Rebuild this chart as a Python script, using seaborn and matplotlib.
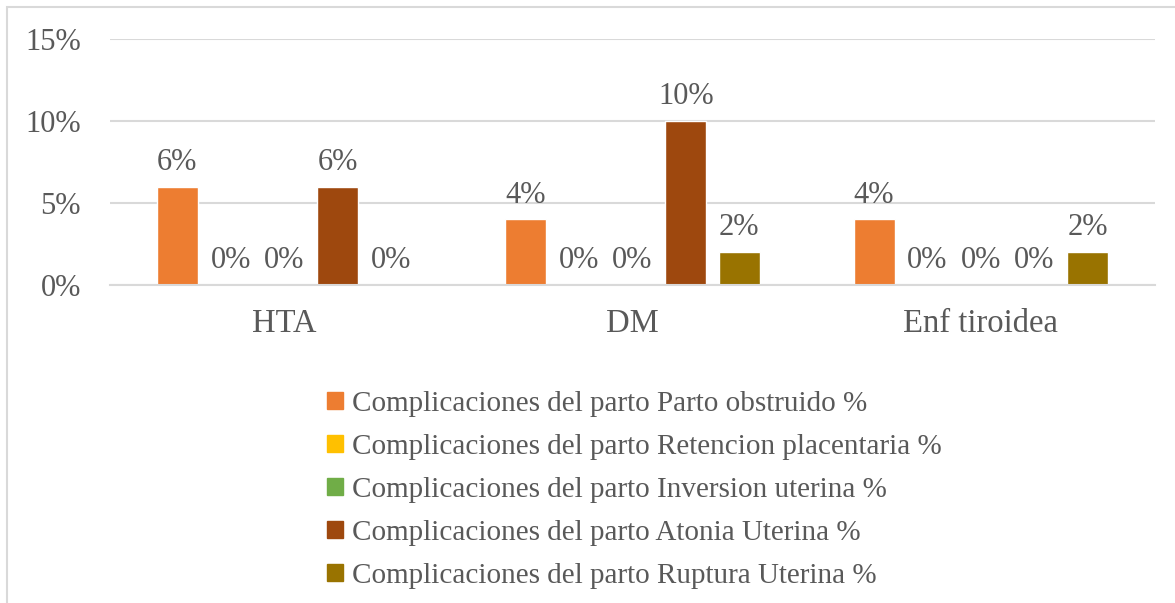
import matplotlib
matplotlib.use("Agg")
import matplotlib.pyplot as plt
import matplotlib.patches as mpatches
import seaborn as sns
import pandas as pd

categories = ["HTA", "DM", "Enf tiroidea"]
series = [
    "Complicaciones del parto Parto obstruido %",
    "Complicaciones del parto Retencion placentaria %",
    "Complicaciones del parto Inversion uterina %",
    "Complicaciones del parto Atonia Uterina %",
    "Complicaciones del parto Ruptura Uterina %",
]
parto_obstruido = [6, 4, 4]
retencion_placentaria = [0, 0, 0]
inversion_uterina = [0, 0, 0]
atonia_uterina = [6, 10, 0]
ruptura_uterina = [0, 2, 2]
yticks = [0, 5, 10, 15]
colors = ["#ED7D31", "#FFC000", "#70AD47", "#9E480E", "#997300"]

values = [parto_obstruido, retencion_placentaria, inversion_uterina, atonia_uterina, ruptura_uterina]
rows = []
for s, vals in zip(series, values):
    for c, v in zip(categories, vals):
        rows.append({"cat": c, "serie": s, "val": v})
df = pd.DataFrame(rows)

sns.set_theme(style="white")
plt.rcParams["font.family"] = ["Liberation Serif", "DejaVu Serif"]
text_color = "#595959"
fs = 22

fig = plt.figure(figsize=(11.75, 6.03), dpi=100)
ax = fig.add_axes([110/1175, 1-285/603, (1155-110)/1175, (285-39)/603])

sns.barplot(data=df, x="cat", y="val", hue="serie", order=categories, hue_order=series,
            palette=colors, width=0.766, gap=0.23, ax=ax, legend=False, saturation=1,
            errorbar=None)

for cont in ax.containers:
    ax.bar_label(cont, labels=[f"{v:.0f}%" for v in cont.datavalues], padding=7,
                 fontsize=fs, color=text_color)

ax.set_ylim(0, 15)
ax.set_xlim(-0.5, 2.5)
ax.set_yticks(yticks)
ax.set_yticklabels([f"{t}%" for t in yticks])
ax.yaxis.grid(True, color="#D9D9D9", linewidth=1.5)
ax.set_axisbelow(True)
for sp in ["top", "right", "left"]:
    ax.spines[sp].set_visible(False)
ax.spines["bottom"].set_color("#D9D9D9")
ax.spines["bottom"].set_linewidth(1.5)
ax.set_xlabel("")
ax.set_ylabel("")
ax.tick_params(axis="both", length=0, labelsize=fs, colors=text_color)
ax.tick_params(axis="x", labelsize=23.5)
ax.tick_params(axis="y", pad=21)
ax.tick_params(axis="x", pad=17)

handles = [mpatches.Patch(color=c, label=s) for c, s in zip(colors, series)]
fig.legend(handles=handles, loc="upper left", bbox_to_anchor=(327/1175, 1-391/603),
           frameon=False, fontsize=21, labelcolor=text_color, handlelength=0.55,
           handleheight=0.55, handletextpad=0.3, labelspacing=0.58, borderaxespad=0,
           borderpad=0)

border = mpatches.Rectangle((7/1175, -0.1), 1.2, 1-7/603+0.1, transform=fig.transFigure,
                            fill=False, edgecolor="#D9D9D9", linewidth=1.5, clip_on=False)
fig.patches.append(border)

fig.savefig("out.png", dpi=100)
